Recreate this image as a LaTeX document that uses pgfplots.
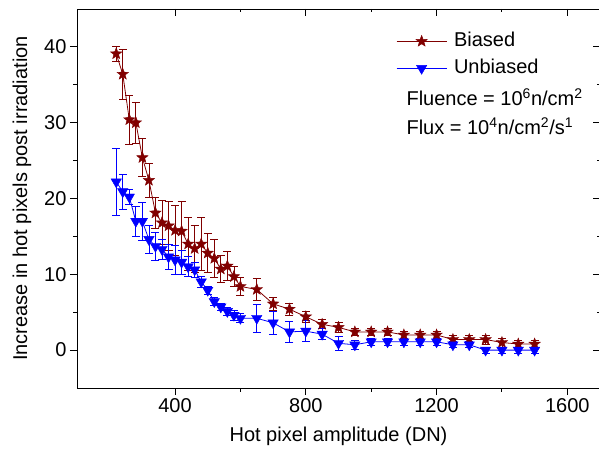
\documentclass[border=0pt]{standalone}
\usepackage{fontspec}
\setmainfont{Liberation Sans}
\usepackage{pgfplots}
\pgfplotsset{compat=1.18}
\definecolor{wine}{HTML}{800000}
\definecolor{unb}{HTML}{0000FF}

% filled five-point star
\pgfdeclareplotmark{fstar}{%
  \pgfpathmoveto{\pgfpointpolar{90}{\pgfplotmarksize}}%
  \pgfpathlineto{\pgfpointpolar{126}{0.42\pgfplotmarksize}}%
  \pgfpathlineto{\pgfpointpolar{162}{\pgfplotmarksize}}%
  \pgfpathlineto{\pgfpointpolar{198}{0.42\pgfplotmarksize}}%
  \pgfpathlineto{\pgfpointpolar{234}{\pgfplotmarksize}}%
  \pgfpathlineto{\pgfpointpolar{270}{0.42\pgfplotmarksize}}%
  \pgfpathlineto{\pgfpointpolar{306}{\pgfplotmarksize}}%
  \pgfpathlineto{\pgfpointpolar{342}{0.42\pgfplotmarksize}}%
  \pgfpathlineto{\pgfpointpolar{18}{\pgfplotmarksize}}%
  \pgfpathlineto{\pgfpointpolar{54}{0.42\pgfplotmarksize}}%
  \pgfpathclose
  \pgfusepathqfillstroke}

\newcommand{\fs}{\fontsize{20}{24}\selectfont}

\begin{document}
\begin{tikzpicture}
\begin{axis}[
  scale only axis, width=523pt, height=379pt,
  xmin=100, xmax=1700, ymin=-5, ymax=45,
  xtick={400,800,1200,1600}, ytick={0,10,20,30,40},
  minor x tick num=1, minor y tick num=1,
  tick align=outside, tick pos=left,
  major tick length=7pt, minor tick length=3.5pt,
  axis line style={line width=0.9pt},
  every tick/.style={line width=0.9pt, black},
  /pgf/number format/assume math mode=true,
  /pgf/number format/1000 sep={},
  tick label style={font=\fs},
  xlabel={Hot pixel amplitude (DN)},
  ylabel={Increase in hot pixels post irradiation},
  every axis x label/.style={at={(axis description cs:0.5,-0.1417)}, anchor=base, font=\fs},
  every axis y label/.style={at={(axis description cs:-0.0956,0.5)}, anchor=base, rotate=90, font=\fs},
  legend cell align=left,
  legend style={draw=none, fill=none, at={(0.61,0.939)}, anchor=north west,
    font=\fs, inner sep=0pt, column sep=7pt, row sep=9pt,
    nodes={inner sep=0pt, text height=14pt, text depth=4pt}},
  legend image code/.code={\draw[mark repeat=2,mark phase=2]
    plot coordinates {(0pt,0pt) (25pt,0pt) (50pt,0pt)};},
]
\addplot+[wine, line width=0.8pt, mark=fstar, mark size=6pt,
  mark options={fill=wine, draw=wine, solid, line width=0.4pt},
  error bars/.cd, y dir=both, y explicit,
  error bar style={line width=0.8pt, wine},
  error mark options={wine, mark size=4pt, line width=0.8pt, rotate=90}]
  table[x=x, y=y, y error=e] {
x y e
220 39.1 1.0
240 36.4 3.3
260 30.4 3.2
280 30.0 2.7
300 25.4 2.5
320 22.4 2.2
340 18.1 2.0
360 16.8 2.9
380 16.4 3.2
400 15.8 3.3
420 15.7 3.9
440 14.0 3.5
460 13.4 3.1
480 14.0 3.5
500 12.8 2.6
520 12.1 2.5
540 10.7 1.8
560 11.1 1.9
580 9.7 1.3
600 8.4 1.2
650 8.0 1.5
700 6.1 0.8
750 5.4 0.8
800 4.4 0.7
850 3.4 0.6
900 3.0 0.6
950 2.4 0.4
1000 2.4 0.4
1050 2.4 0.4
1100 2.0 0.5
1150 2.0 0.5
1200 2.0 0.5
1250 1.4 0.6
1300 1.4 0.6
1350 1.4 0.6
1400 1.0 0.6
1450 0.8 0.5
1500 0.8 0.5
};
\addlegendentry{Biased}
\addplot+[unb, line width=0.8pt, mark=triangle*, mark size=6pt,
  mark options={fill=unb, draw=unb, solid, rotate=180, line width=0.4pt},
  error bars/.cd, y dir=both, y explicit,
  error bar style={line width=0.8pt, unb},
  error mark options={unb, mark size=4pt, line width=0.8pt, rotate=90}]
  table[x=x, y=y, y error=e] {
x y e
220 22.2 4.4
240 20.9 2.3
260 20.2 1.0
280 17.0 2.0
300 17.0 2.5
320 14.6 1.9
340 13.7 1.8
360 13.3 1.3
380 12.3 1.6
400 11.9 1.9
420 11.6 1.6
440 11.0 1.3
460 10.6 1.0
480 9.0 0.7
500 7.9 0.5
520 6.4 0.5
540 5.7 0.5
560 5.1 0.5
580 4.6 0.7
600 4.2 0.6
650 4.2 1.8
700 3.6 1.5
750 2.4 1.4
800 2.5 1.4
850 2.1 0.7
900 0.9 0.9
950 0.7 0.6
1000 1.1 0.5
1050 1.1 0.5
1100 1.1 0.5
1150 1.1 0.5
1200 1.1 0.5
1250 0.7 0.4
1300 0.7 0.4
1350 0.0 0.4
1400 0.0 0.4
1450 0.0 0.4
1500 0.0 0.4
};
\addlegendentry{Unbiased}
\end{axis}
% mirror ticks on top and right, pointing inward
\begin{axis}[
  scale only axis, width=523pt, height=379pt,
  xmin=100, xmax=1700, ymin=-5, ymax=45,
  xtick={400,800,1200,1600}, ytick={0,10,20,30,40},
  minor x tick num=1, minor y tick num=1,
  tick align=inside, tick pos=right,
  major tick length=7pt, minor tick length=3.5pt,
  axis line style={line width=0.9pt},
  every tick/.style={line width=0.9pt, black},
  xticklabels={}, yticklabels={},
]
\end{axis}
\node[anchor=base west, font=\fs] at (326pt,282pt) {Fluence = 10\textsuperscript{6}n/cm\textsuperscript{2}};
\node[anchor=base west, font=\fs] at (326pt,253pt) {Flux = 10\textsuperscript{4}n/cm\textsuperscript{2}/s\textsuperscript{1}};
\pgfresetboundingbox
\path (-77pt,-73pt) rectangle (522pt,388pt);
\end{tikzpicture}
\end{document}
